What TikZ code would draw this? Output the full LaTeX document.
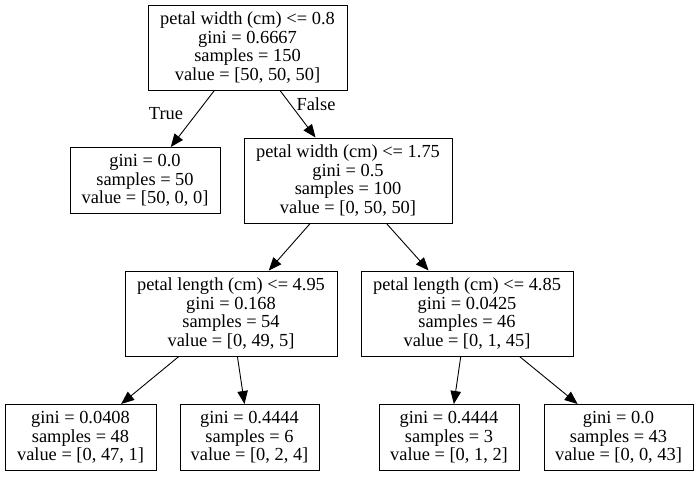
\documentclass[tikz,border=0pt]{standalone}
\usepackage{fontspec}
\setmainfont{Liberation Serif}
\usetikzlibrary{arrows.meta}

\begin{document}
\begin{tikzpicture}[x=1pt,y=-1pt,
  tnode/.style={draw=black, line width=1pt, shape=rectangle, align=center, inner sep=0pt, font={\fontsize{18.4}{18.5}\selectfont}, minimum height=85pt},
  tleaf/.style={tnode, minimum height=66pt},
  tlabel/.style={font={\fontsize{18.4}{18.5}\selectfont}, inner sep=0pt},
  tedge/.style={-{Triangle[length=13pt,width=10.5pt]}, line width=0.9pt}]
\useasboundingbox (0,0) rectangle (699,477);

\node [tnode, minimum width=199pt] (n0) at (247.5,47.5) {petal width (cm) <= 0.8\\gini = 0.6667\\samples = 150\\value = [50, 50, 50]};
\node [tleaf, minimum width=150pt] (n1) at (145,180.5) {gini = 0.0\\samples = 50\\value = [50, 0, 0]};
\node [tnode, minimum width=208pt] (n2) at (348,180.5) {petal width (cm) <= 1.75\\gini = 0.5\\samples = 100\\value = [0, 50, 50]};
\node [tnode, minimum width=212pt] (n3) at (231,313.5) {petal length (cm) <= 4.95\\gini = 0.168\\samples = 54\\value = [0, 49, 5]};
\node [tnode, minimum width=212pt] (n6) at (467,313.5) {petal length (cm) <= 4.85\\gini = 0.0425\\samples = 46\\value = [0, 1, 45]};
\node [tleaf, minimum width=151pt] (n4) at (80.5,437.5) {gini = 0.0408\\samples = 48\\value = [0, 47, 1]};
\node [tleaf, minimum width=139pt] (n5) at (249.5,437.5) {gini = 0.4444\\samples = 6\\value = [0, 2, 4]};
\node [tleaf, minimum width=140pt] (n7) at (449,437.5) {gini = 0.4444\\samples = 3\\value = [0, 1, 2]};
\node [tleaf, minimum width=149pt] (n8) at (618.5,437.5) {gini = 0.0\\samples = 43\\value = [0, 0, 43]};

\node [tlabel] (ltrue) at (166,114) {True};
\node [tlabel] (lfalse) at (316,104) {False};

\draw [tedge] (n0) -- (n1);
\draw [tedge] (n0) -- (n2);
\draw [tedge] (n2) -- (n3);
\draw [tedge] (n2) -- (n6);
\draw [tedge] (n3) -- (n4);
\draw [tedge] (n3) -- (n5);
\draw [tedge] (n6) -- (n7);
\draw [tedge] (n6) -- (n8);
\end{tikzpicture}
\end{document}
